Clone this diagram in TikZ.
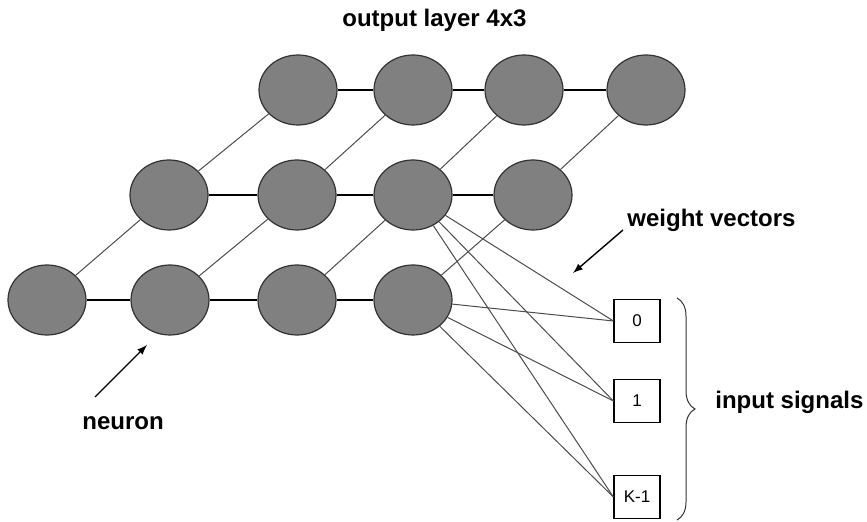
\documentclass[tikz,border=0pt]{standalone}
\usepackage{fontspec}
\setmainfont{Liberation Sans}
\usetikzlibrary{shapes.geometric,decorations.pathreplacing,positioning}
\tikzset{%
	neuron/.style = {draw=black!80, fill=gray, ellipse, minimum width=39pt, minimum height=35pt, inner sep=0pt, line width=0.6pt}, % Neuron
	inbox/.style  = {draw, rectangle, minimum width=23pt, minimum height=21.5pt, inner sep=0pt, line width=0.6pt, font=\fontsize{8.5}{10}\selectfont}, % Input
	txt/.style    = {inner sep=0pt, anchor=base west, font=\bfseries\fontsize{12}{14}\selectfont},
	link/.style   = {black!70, line width=0.5pt},
	hlink/.style  = {black, line width=0.55pt},
	arrow/.style  = {line width=0.7pt,-latex},
}
\begin{document}
\begin{tikzpicture}[x=0.5pt,y=-0.5pt]
	\useasboundingbox (0,0) rectangle (867,522);
	
	\node[neuron] (t1) at (298,90) {};
	\node[neuron] (t2) at (413,90) {};
	\node[neuron] (t3) at (524,90) {};
	\node[neuron] (t4) at (646,90) {};
	\node[neuron] (m1) at (169,195) {};
	\node[neuron] (m2) at (297,195) {};
	\node[neuron] (m3) at (413,195) {};
	\node[neuron] (m4) at (533,195) {};
	\node[neuron] (b1) at (47,300) {};
	\node[neuron] (b2) at (170,300) {};
	\node[neuron] (b3) at (297,300) {};
	\node[neuron] (b4) at (413,300) {};
	
	\node[inbox] (x0) at (637,321) {0};
	\node[inbox] (x1) at (637,401) {1};
	\node[inbox] (xk) at (637,497) {K-1};
	
	\node[txt] (title) at (342,27) {output layer 4x3};
	\node[txt] (wv) at (627,227) {weight vectors};
	\node[txt] (is) at (715,409) {input signals};
	\node[txt] (nl) at (82,430) {neuron};
	
	\coordinate (nt) at (95,397);
	\coordinate (nh) at (147,345);
	\coordinate (wt) at (623,230);
	\coordinate (wh) at (573,273);
	\coordinate (bt) at (677,298);
	\coordinate (bb) at (677,520);
	
	\draw[hlink] (t1) -- (t2);
	\draw[hlink] (t2) -- (t3);
	\draw[hlink] (t3) -- (t4);
	\draw[hlink] (m1) -- (m2);
	\draw[hlink] (m2) -- (m3);
	\draw[hlink] (m3) -- (m4);
	\draw[hlink] (b1) -- (b2);
	\draw[hlink] (b2) -- (b3);
	\draw[hlink] (b3) -- (b4);
	
	\draw[link] (b1) -- (m1);
	\draw[link] (b2) -- (m2);
	\draw[link] (b3) -- (m3);
	\draw[link] (b4) -- (m4);
	\draw[link] (m1) -- (t1);
	\draw[link] (m2) -- (t2);
	\draw[link] (m3) -- (t3);
	\draw[link] (m4) -- (t4);
	
	\draw[link] (m3) -- (x0.west);
	\draw[link] (m3) -- (x1.west);
	\draw[link] (m3) -- (xk.west);
	\draw[link] (b4) -- (x0.west);
	\draw[link] (b4) -- (x1.west);
	\draw[link] (b4) -- (xk.west);
	
	\draw[arrow] (nt) -- (nh);
	\draw[arrow] (wt) -- (wh);
	\draw[black!80, line width=0.5pt, decorate, decoration={brace, amplitude=9pt}] (bt) -- (bb);
\end{tikzpicture}
\end{document}
